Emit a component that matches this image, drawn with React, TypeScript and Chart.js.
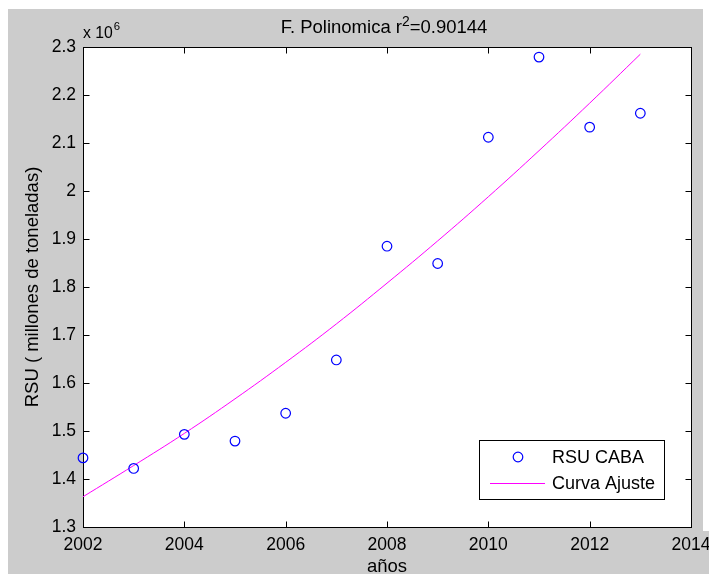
import React, { useEffect, useRef } from "react";
import { Chart, registerables } from "chart.js";

Chart.register(...registerables);

// ---- data ----
const years = [2002, 2003, 2004, 2005, 2006, 2007, 2008, 2009, 2010, 2011, 2012, 2013];
const rsuCaba = [1.444e6, 1.422e6, 1.493e6, 1.479e6, 1.537e6, 1.648e6, 1.885e6, 1.849e6, 2.112e6, 2.279e6, 2.133e6, 2.162e6];
const curvaAjuste = [1.363e6, 1.428e6, 1.495e6, 1.567e6, 1.643e6, 1.723e6, 1.808e6, 1.896e6, 1.988e6, 2.084e6, 2.183e6, 2.285e6];
const xTickValues = [2002, 2004, 2006, 2008, 2010, 2012, 2014];
const yTickValues = [1.3e6, 1.4e6, 1.5e6, 1.6e6, 1.7e6, 1.8e6, 1.9e6, 2.0e6, 2.1e6, 2.2e6, 2.3e6];

const titleText = "F. Polinomica r";
const titleSup = "2";
const titleRest = "=0.90144";
const xLabel = "años";
const yLabel = "RSU ( millones de toneladas)";
const seriesLabels = ["RSU CABA", "Curva Ajuste"];

const FONT = "Liberation Sans, Arial, Helvetica, sans-serif";
const FS = 17.5;
const FT = 18.5;
const FIG_W = 695;

const decorPlugin = {
  id: "matlabDecor",
  beforeDraw(chart: any) {
    const { ctx, chartArea: a, width, height } = chart;
    ctx.save();
    ctx.fillStyle = "#ffffff";
    ctx.fillRect(0, 0, width, height);
    ctx.fillStyle = "#cccccc";
    ctx.fillRect(0, 1, FIG_W, height - 1);
    const by = Math.round(a.bottom) + 4;
    ctx.fillRect(0, by, width, height - by);
    ctx.fillStyle = "#ffffff";
    ctx.fillRect(a.left, a.top, a.right - a.left, a.bottom - a.top);
    ctx.restore();
  },
  beforeDatasetsDraw(chart: any) {
    const { ctx, chartArea: a, scales } = chart;
    ctx.save();
    ctx.strokeStyle = "#000000";
    ctx.lineWidth = 1;
    const L = Math.round(a.left) + 0.5;
    const R = Math.round(a.right) + 0.5;
    const T = Math.round(a.top) + 0.5;
    const B = Math.round(a.bottom) + 0.5;
    ctx.strokeRect(L, T, R - L, B - T);
    const tl = 6;
    ctx.beginPath();
    xTickValues.forEach((v) => {
      const x = Math.round(scales.x.getPixelForValue(v)) + 0.5;
      ctx.moveTo(x, B);
      ctx.lineTo(x, B - tl);
      ctx.moveTo(x, T);
      ctx.lineTo(x, T + tl);
    });
    yTickValues.forEach((v) => {
      const y = Math.round(scales.y.getPixelForValue(v)) + 0.5;
      ctx.moveTo(L, y);
      ctx.lineTo(L + tl, y);
      ctx.moveTo(R, y);
      ctx.lineTo(R - tl, y);
    });
    ctx.stroke();
    ctx.restore();
  },
  afterDraw(chart: any) {
    const { ctx, chartArea: a } = chart;
    ctx.save();
    ctx.fillStyle = "#000000";
    ctx.textBaseline = "alphabetic";

    // title
    ctx.font = `${FT}px ${FONT}`;
    const w1 = ctx.measureText(titleText).width;
    const w3 = ctx.measureText(titleRest).width;
    ctx.font = `${FT * 0.75}px ${FONT}`;
    const w2 = ctx.measureText(titleSup).width;
    const total = w1 + w2 + w3;
    const cx = (a.left + a.right) / 2;
    const tx = cx - 3 - total / 2;
    const ty = 25;
    ctx.font = `${FT}px ${FONT}`;
    ctx.textAlign = "left";
    ctx.fillText(titleText, tx, ty);
    ctx.font = `${FT * 0.75}px ${FONT}`;
    ctx.fillText(titleSup, tx + w1, ty - 7);
    ctx.font = `${FT}px ${FONT}`;
    ctx.fillText(titleRest, tx + w1 + w2, ty);

    // exponent
    ctx.font = `${FS * 0.9}px ${FONT}`;
    const ex = a.left;
    ctx.fillText("x 10", ex, 30);
    const wx = ctx.measureText("x 10").width;
    ctx.font = `${FS * 0.65}px ${FONT}`;
    ctx.fillText("6", ex + wx + 1, 22);

    // x label
    ctx.font = `${FT}px ${FONT}`;
    ctx.textAlign = "center";
    ctx.fillText(xLabel, cx, 564);

    // y label
    ctx.save();
    ctx.translate(25, (a.top + a.bottom) / 2);
    ctx.rotate(-Math.PI / 2);
    ctx.textAlign = "center";
    ctx.textBaseline = "middle";
    ctx.fillText(yLabel, 0, 0);
    ctx.restore();

    // legend
    const lw = 185, lh = 59;
    const lx = Math.round(a.right) - 27 - lw;
    const ly = Math.round(a.bottom) - 28 - lh;
    ctx.fillStyle = "#ffffff";
    ctx.fillRect(lx, ly, lw, lh);
    ctx.strokeStyle = "#000000";
    ctx.lineWidth = 1;
    ctx.strokeRect(lx + 0.5, ly + 0.5, lw, lh);
    ctx.fillStyle = "#000000";
    ctx.textAlign = "left";
    ctx.textBaseline = "middle";
    ctx.font = `${18}px ${FONT}`;
    const r1 = ly + 17, r2 = ly + 43;
    ctx.beginPath();
    ctx.strokeStyle = "#0000ff";
    ctx.lineWidth = 1.2;
    ctx.arc(lx + 39, r1, 4.8, 0, Math.PI * 2);
    ctx.stroke();
    ctx.fillText(seriesLabels[0], lx + 73, r1 + 1);
    ctx.beginPath();
    ctx.strokeStyle = "#ff00ff";
    ctx.lineWidth = 1;
    ctx.moveTo(lx + 11, r2 + 0.5);
    ctx.lineTo(lx + 66, r2 + 0.5);
    ctx.stroke();
    ctx.fillText(seriesLabels[1], lx + 73, r2 + 1);
    ctx.restore();
  },
};

export default function App() {
  const ref = useRef<HTMLCanvasElement | null>(null);
  useEffect(() => {
    if (!ref.current) return;
    const chart = new Chart(ref.current, {
      type: "scatter",
      data: {
        datasets: [
          {
            label: seriesLabels[0],
            data: years.map((y, i) => ({ x: y, y: rsuCaba[i] })),
            showLine: false,
            pointStyle: "circle",
            pointRadius: 4.8,
            pointBorderWidth: 1.2,
            borderColor: "#0000ff",
            backgroundColor: "rgba(0,0,0,0)",
            pointBackgroundColor: "rgba(0,0,0,0)",
            clip: false as any,
          },
          {
            label: seriesLabels[1],
            data: years.map((y, i) => ({ x: y, y: curvaAjuste[i] })),
            showLine: true,
            tension: 0.4,
            pointRadius: 0,
            borderColor: "#ff00ff",
            borderWidth: 1,
            backgroundColor: "#ff00ff",
          },
        ],
      },
      options: {
        animation: false,
        responsive: false,
        devicePixelRatio: 1,
        layout: { padding: { top: 39, right: 26, left: 0, bottom: 0 } },
        plugins: {
          legend: { display: false },
          title: { display: false },
          tooltip: { enabled: false },
        },
        scales: {
          x: {
            type: "linear",
            min: 2002,
            max: 2014,
            grid: { display: false, drawTicks: false },
            border: { display: false },
            afterFit: (s: any) => {
              s.height = 47;
              s.paddingLeft = 0;
              s.paddingRight = 0;
            },
            afterBuildTicks: (s: any) => {
              s.ticks = xTickValues.map((v) => ({ value: v }));
            },
            ticks: {
              autoSkip: false,
              maxRotation: 0,
              padding: 8,
              color: "#000000",
              font: { family: FONT, size: FS },
              callback: (v: any) => String(v),
            },
          },
          y: {
            type: "linear",
            min: 1.3e6,
            max: 2.3e6,
            grid: { display: false, drawTicks: false },
            border: { display: false },
            afterFit: (s: any) => {
              s.width = 75;
              s.paddingTop = 0;
              s.paddingBottom = 0;
            },
            afterBuildTicks: (s: any) => {
              s.ticks = yTickValues.map((v) => ({ value: v }));
            },
            ticks: {
              autoSkip: false,
              padding: 7,
              color: "#000000",
              font: { family: FONT, size: FS },
              callback: (v: any) => String(Number((Number(v) / 1e6).toFixed(1))),
            },
          },
        },
      },
      plugins: [decorPlugin],
    });
    return () => chart.destroy();
  }, []);
  return <canvas ref={ref} width={709} height={566} style={{ display: "block" }} />;
}
